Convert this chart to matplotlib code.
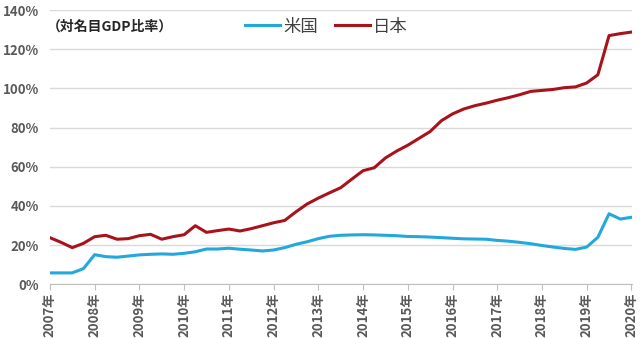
import numpy as np
import matplotlib.pyplot as plt

plt.rcParams['font.family'] = ['Noto Sans CJK JP', 'DejaVu Sans']

# quarterly values, 2007Q1 - 2020Q1 (% of nominal GDP)
us = [5.8, 5.8, 5.8, 8.0,
      15.1, 14.1, 13.8, 14.4,
      15.0, 15.3, 15.5, 15.3,
      15.8, 16.6, 18.0, 18.0,
      18.4, 17.9, 17.5, 17.0,
      17.5, 18.7, 20.4, 21.7,
      23.3, 24.5, 25.0, 25.2,
      25.3, 25.2, 25.0, 24.8,
      24.4, 24.3, 24.1, 23.8,
      23.5, 23.2, 23.1, 23.0,
      22.4, 22.0, 21.4, 20.7,
      19.8, 19.0, 18.3, 17.8,
      19.0, 24.0, 36.0, 33.3,
      34.2]
japan = [23.8, 21.4, 18.7, 20.9,
         24.3, 25.0, 23.0, 23.3,
         24.8, 25.5, 23.0, 24.3,
         25.3, 29.9, 26.5, 27.4,
         28.2, 27.2, 28.4, 29.9,
         31.4, 32.6, 37.0, 41.0,
         44.0, 46.7, 49.3, 53.7,
         58.0, 59.5, 64.5, 68.0,
         71.0, 74.5, 78.0, 83.5,
         87.0, 89.5, 91.2, 92.5,
         94.0, 95.3, 96.8, 98.5,
         99.0, 99.5, 100.4, 100.8,
         102.8, 107.0, 127.0, 128.0,
         128.8]
years = list(range(2007, 2021))
year_labels = [f"{y}年" for y in years]
y_ticks = [0, 20, 40, 60, 80, 100, 120, 140]

x = 2007 + np.arange(len(us)) / 4

fig = plt.figure(figsize=(6.4, 3.38), dpi=100)
ax = fig.add_axes([0.078, 0.159, 0.91, 0.811])

ax.plot(x, us, color="#22A8DC", lw=2.2, label="米国")
ax.plot(x, japan, color="#A8121B", lw=2.2, label="日本")

ax.set_xlim(2007, 2020.02)
ax.set_ylim(0, 140)
ax.set_yticks(y_ticks)
ax.set_yticklabels([f"{v}%" for v in y_ticks], fontsize=9.5,
                   fontweight="bold", color="#595959")
ax.set_xticks(years)
ax.set_xticklabels(year_labels, rotation=90, fontsize=9.5,
                   fontweight="bold", color="#595959")

ax.grid(axis="y", color="#D9D9D9", lw=1)
ax.set_axisbelow(True)
for s in ["top", "right", "left"]:
    ax.spines[s].set_visible(False)
ax.spines["bottom"].set_color("#BFBFBF")
ax.tick_params(axis="y", length=0, pad=8)
ax.tick_params(axis="x", length=4, color="#BFBFBF", pad=2)

ax.text(-0.005, 0.94, "（対名目GDP比率）", transform=ax.transAxes,
        fontsize=10, fontweight="bold", color="#262626", va="center")

ax.legend(loc="upper center", bbox_to_anchor=(0.475, 1.03), ncol=2,
          frameon=False, fontsize=12.5, handlelength=2.0,
          handletextpad=0.2, columnspacing=1.0, labelcolor="#404040")

fig.savefig("out.png", dpi=100)
